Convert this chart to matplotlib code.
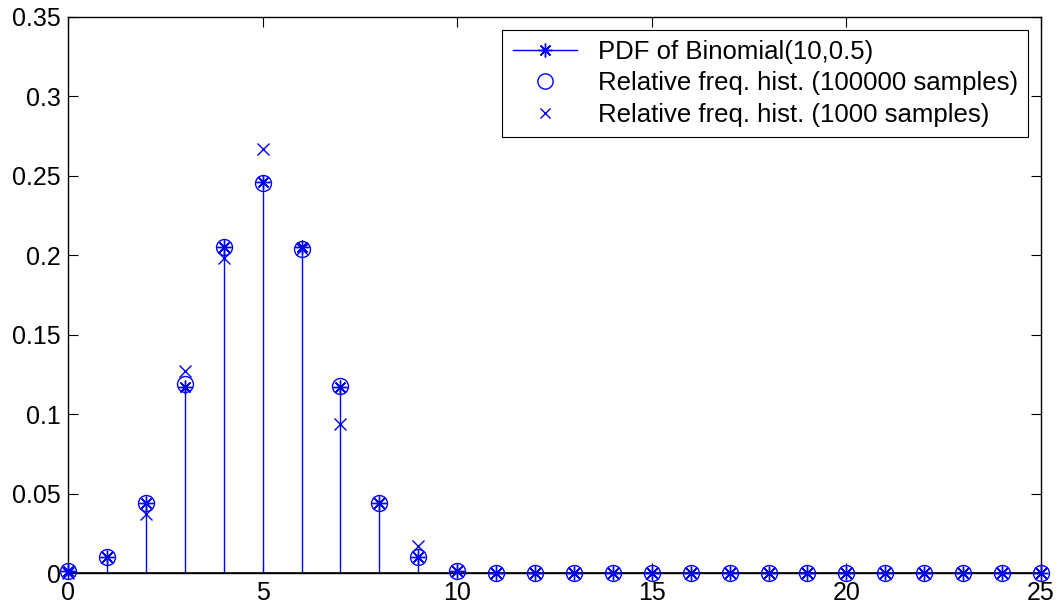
import numpy as np
import matplotlib.pyplot as plt
from matplotlib.lines import Line2D
from matplotlib.legend_handler import HandlerLine2D
from matplotlib.ticker import FuncFormatter

plt.rcParams['font.family'] = ['Liberation Sans', 'DejaVu Sans']

# support of the plot
k = np.arange(0, 26)

# exact Binomial(10, 0.5) probabilities, zero past k = 10
pdf = [0.000977, 0.009766, 0.043945, 0.117188, 0.205078, 0.246094,
       0.205078, 0.117188, 0.043945, 0.009766, 0.000977] + [0.0] * 15

# relative frequencies from 100000 draws
hist_big = [0.0010, 0.0098, 0.0440, 0.1187, 0.2050, 0.2453,
            0.2042, 0.1176, 0.0438, 0.0098, 0.0010] + [0.0] * 15

# relative frequencies from 1000 draws
hist_small = [0.000, 0.010, 0.037, 0.127, 0.198, 0.267,
              0.204, 0.094, 0.044, 0.017, 0.001] + [0.0] * 15


class EndMarkerHandler(HandlerLine2D):
    # stem-style legend entry: line with the marker at its right end
    def get_xdata(self, legend, xdescent, ydescent, width, height, fontsize):
        xdata, _ = super().get_xdata(legend, xdescent, ydescent, width, height, fontsize)
        return xdata, [xdata[-1] - 0.15 * fontsize]


blue = (0, 0, 1)
asterisk = (8, 2, 0)
tick_fs = 18
legend_fs = 18.5

fig = plt.figure(figsize=(10.56, 6.07), dpi=100)
ax = fig.add_axes([0.0644, 0.056, 0.9214, 0.916])

ax.vlines(k, 0, pdf, colors=[blue], linewidth=1.0, zorder=2)
ax.plot(k, pdf, linestyle='none', marker=asterisk, markersize=10,
        markeredgecolor=blue, markeredgewidth=1.0, zorder=5, clip_on=False)
ax.axhline(0, color='black', linewidth=1.2, zorder=4)
ax.plot(k, hist_big, linestyle='none', marker='o', markersize=11.5,
        markerfacecolor='none', markeredgecolor=blue, markeredgewidth=1.0,
        zorder=5, clip_on=False)
ax.plot(k, hist_small, linestyle='none', marker='x', markersize=8.5,
        markeredgecolor=blue, markeredgewidth=1.0, zorder=5, clip_on=False)

ax.set_xlim(0, 25)
ax.set_ylim(0, 0.35)
ax.set_xticks(np.arange(0, 26, 5))
ax.set_yticks(np.arange(0, 0.351, 0.05))
ax.yaxis.set_major_formatter(FuncFormatter(lambda v, p: '%g' % round(v, 2)))
ax.tick_params(direction='in', top=True, right=True, length=7, width=0.8,
               labelsize=tick_fs)
ax.tick_params(axis='y', pad=5)
ax.tick_params(axis='x', pad=6)
for s in ax.spines.values():
    s.set_linewidth(1.0)

h_pdf = Line2D([], [], color=blue, linewidth=1.0, marker=asterisk, markersize=10,
               markeredgecolor=blue)
h_big = Line2D([], [], linestyle='none', marker='o', markersize=11,
               markerfacecolor='none', markeredgecolor=blue)
h_small = Line2D([], [], linestyle='none', marker='x', markersize=7,
                 markeredgecolor=blue)
leg = ax.legend([h_pdf, h_big, h_small],
                ['PDF of Binomial(10,0.5)',
                 'Relative freq. hist. (100000 samples)',
                 'Relative freq. hist. (1000 samples)'],
                handler_map={h_pdf: EndMarkerHandler(numpoints=1)},
                loc='upper right', bbox_to_anchor=(0.9866, 0.9775),
                fontsize=legend_fs, fancybox=False, framealpha=1, edgecolor='black',
                borderpad=0.4, labelspacing=0.3, handlelength=2.5,
                handletextpad=0.8, borderaxespad=0)
leg.get_frame().set_linewidth(0.8)
leg.set_zorder(6)

fig.savefig('out.png', dpi=100)
